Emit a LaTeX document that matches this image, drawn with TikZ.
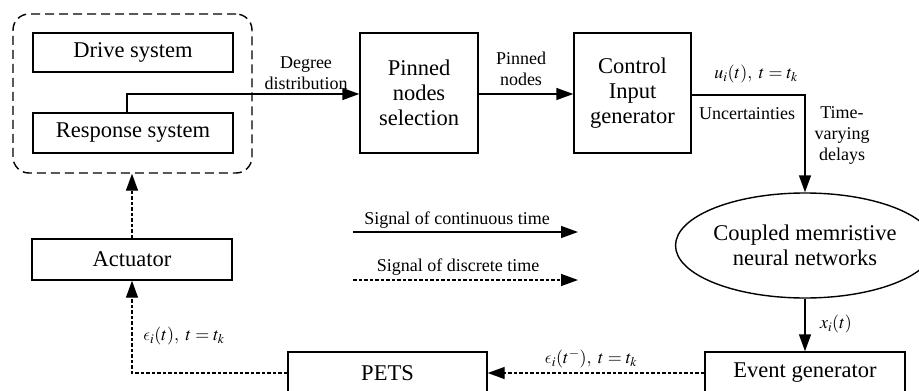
\documentclass[tikz,border=0pt]{standalone}
\usepackage{mathptmx}
\DeclareSymbolFont{cmlett}{OML}{cmm}{m}{it}
\DeclareMathSymbol{\lunateps}{\mathord}{cmlett}{"0F}
\usepackage{fontspec}
\setmainfont{Liberation Serif}
\usetikzlibrary{arrows.meta,shapes.geometric}
\tikzset{
  box/.style={draw, line width=1.4pt, align=center, inner sep=0pt, font=\fontsize{22.5}{25}\selectfont},
  lbl/.style={align=center, inner sep=0pt, font=\fontsize{18}{21}\selectfont},
  mlbl/.style={inner sep=0pt, font=\fontsize{18}{20}\selectfont},
  sig/.style={line width=1.4pt, -{Triangle[length=17pt,width=12pt]}},
  dsig/.style={sig, dash pattern=on 3.5pt off 2pt},
}
\begin{document}
\begin{tikzpicture}[x=1pt,y=-1pt]
\useasboundingbox (0,0) rectangle (919,391);
\clip (0,0) rectangle (919,391);
% container
\node[draw, line width=1.4pt, dash pattern=on 9pt off 5pt, rounded corners=16pt, minimum width=239pt, minimum height=159pt, inner sep=0pt] (cont) at (132.5,93.5) {};
\node[box, minimum width=200pt, minimum height=39pt] (drive) at (133,52.5) {Drive system};
\node[box, minimum width=200pt, minimum height=40pt] (resp) at (133,133) {Response system};
\node[box, minimum width=118pt, minimum height=120pt] (pin) at (419,93) {Pinned\\nodes\\selection};
\node[box, minimum width=117pt, minimum height=120pt] (ctrl) at (632.5,93) {Control\\Input\\generator};
\node[box, ellipse, minimum width=240pt, minimum height=105pt] (cmnn) at (805,245.5) {Coupled memristive\\neural networks};
\node[box, minimum width=200pt, minimum height=41pt] (act) at (132,259.5) {Actuator};
\node[box, minimum width=199pt, minimum height=42pt] (pets) at (387.5,373) {PETS};
\node[box, minimum width=200pt, minimum height=42pt] (evt) at (805,373) {Event generator};
% connectors
\draw[sig] (resp.north -| 127,0) |- (pin.west |- 0,94);
\draw[sig] (pin.east |- 0,94) -- (ctrl.west |- 0,94);
\draw[sig] (ctrl.east |- 0,95) -| (cmnn.north);
\draw[sig] (cmnn.south) -- (evt.north);
\draw[dsig] (evt.west) -- (pets.east);
\draw[dsig] (pets.west) -| (act.south);
\draw[dsig] (act.north) -- (cont.south -| act.north);
% labels
\node[lbl] (l1) at (306,73) {Degree\\distribution};
\node[lbl] (l2) at (521,69) {Pinned\\nodes};
\node[mlbl] (l3) at (756,74) {$u_i(t),\ t = t_k$};
\node[lbl] (l4) at (747,114) {Uncertainties};
\node[lbl] (l5) at (842,135) {Time-\\varying\\delays};
\node[mlbl] (l6) at (836,324) {$x_i(t)$};
\node[mlbl] (l7) at (591,359) {$\lunateps_i(t^-),\ t = t_k$};
\node[mlbl] (l8) at (184,336) {$\lunateps_i(t),\ t = t_k$};
% legend
\coordinate (c1) at (353,232);
\coordinate (c2) at (578,232);
\coordinate (d1) at (353,280);
\coordinate (d2) at (578,280);
\draw[sig] (c1) -- (c2);
\draw[dsig] (d1) -- (d2);
\node[lbl] (t1) at (457,220) {Signal of continuous time};
\node[lbl] (t2) at (458,267) {Signal of discrete time};
\end{tikzpicture}
\end{document}
